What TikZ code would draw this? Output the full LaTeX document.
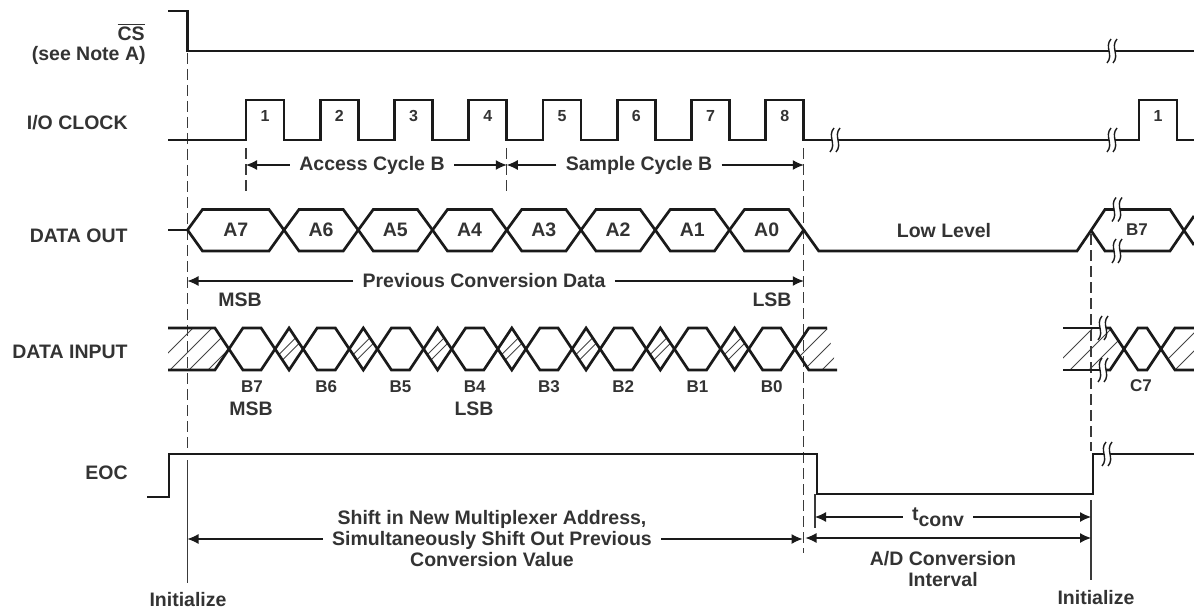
\documentclass[tikz,border=0pt]{standalone}
\usepackage{fontspec}
\setmainfont{Liberation Sans}
\usetikzlibrary{arrows.meta}
\definecolor{txt}{HTML}{333333}
\definecolor{sigc}{HTML}{1A1A1A}
\definecolor{guidec}{HTML}{3A3A3A}
\definecolor{hatchc}{HTML}{444444}
\begin{document}
\begin{tikzpicture}[x=0.5pt,y=-0.5pt,
  sig/.style={line width=1.35pt, draw=sigc, line join=miter, miter limit=4},
  dim/.style={line width=0.55pt, draw=sigc, -{Latex[length=5.5pt,width=5pt]}},
  dimboth/.style={line width=0.55pt, draw=sigc, {Latex[length=5.5pt,width=5pt]}-{Latex[length=5.5pt,width=5pt]}},
  guide/.style={line width=0.6pt, draw=guidec, dash pattern=on 5.5pt off 2.5pt},
  solidguide/.style={line width=0.6pt, draw=guidec},
  hatch/.style={line width=0.45pt, draw=hatchc},
  lbl/.style={font=\bfseries\fontsize{9.75}{10.5}\selectfont, text=txt, inner sep=0pt},
  albl/.style={lbl, inner xsep=4.5pt},
  num/.style={font=\bfseries\fontsize{8}{9}\selectfont, text=txt, inner sep=0pt},
  blbl/.style={font=\bfseries\fontsize{8.5}{9}\selectfont, text=txt, inner sep=0pt},
  brk/.pic={
    \draw[line width=0.7pt, sigc] (-1,-12) .. controls (-8,-4) and (2,4) .. (-5,12);
    \draw[line width=0.7pt, sigc] (5,-12) .. controls (-2,-4) and (8,4) .. (1,12);
  }
]
\useasboundingbox (0,0) rectangle (1194,610);

% ---------------- left labels
\node[lbl, anchor=east] (cs) at (145,32) {$\overline{\hbox{CS}}$};
\node[lbl, anchor=east] (note) at (146,55) {(see Note A)};
\node[lbl, anchor=east] (clk) at (128,123) {I/O CLOCK};
\node[lbl, anchor=east] (dout) at (128,236) {DATA OUT};
\node[lbl, anchor=east] (din) at (128,352) {DATA INPUT};
\node[lbl, anchor=east] (eoc) at (128,473) {EOC};

% ---------------- guide lines
\draw[guide] (187.5,53) -- (187.5,451);
\draw[solidguide] (187.5,460) -- (187.5,583);
\draw[guide] (246,148) -- (246,192);
\draw[guide] (506.75,148) -- (506.75,192);
\draw[guide] (803.75,148) -- (803.75,553);
\draw[guide] (1091,234) -- (1091,451);
\draw[solidguide] (1091,500) -- (1091,580);
\draw[solidguide] (815,494) -- (815,528);

% ---------------- CS
\draw[sig] (168,11) -- (187.5,11) -- (187.5,51) -- (1109,51);
\pic at (1112,51) {brk};
\draw[sig] (1115,51) -- (1194,51);

% ---------------- I/O CLOCK
\draw[sig] (168,140)
  \foreach \k in {0,...,7}{ -- ({246+74.25*\k},140) -- ({246+74.25*\k},100) -- ({284+74.25*\k},100) -- ({284+74.25*\k},140) }
  -- (832,140);
\pic at (835,140) {brk};
\draw[sig] (838,140) -- (1109,140);
\pic at (1112,140) {brk};
\draw[sig] (1115,140) -- (1139,140) -- (1139,100) -- (1177,100) -- (1177,140) -- (1194,140);
\foreach \k/\n in {0/1,1/2,2/3,3/4,4/5,5/6,6/7,7/8}
  \node[num] (p\n) at ({265+74.25*\k},116) {\n};
\node[num] (p1b) at (1158,116) {1};

% cycle arrows
\coordinate (t1) at (246,165);
\coordinate (t4) at (506.75,165);
\coordinate (t8) at (803.75,165);
\node[albl] (acc) at (372,165) {Access Cycle B};
\draw[dim] (acc.west) -- (t1);
\draw[dim] (acc.east) -- (t4);
\node[albl] (smp) at (639,165) {Sample Cycle B};
\draw[dim] (smp.west) -- (t4);
\draw[dim] (smp.east) -- (t8);

% ---------------- DATA OUT
\draw[sig] (168,230) -- (187.5,230);
\foreach \a/\b/\t in {187.5/284/A7, 284/358.25/A6, 358.25/432.5/A5, 432.5/506.75/A4, 506.75/581/A3, 581/655.25/A2, 655.25/729.5/A1, 729.5/803.75/A0} {
  \draw[sig] (\a,230) -- (\a+15,209.5) -- (\b-15,209.5) -- (\b,230) -- (\b-15,251) -- (\a+15,251) -- cycle;
  \node[lbl] (d\t) at ({(\a+\b)/2},230) {\t};
}
\draw[sig] (803.75,230) -- (818.75,251) -- (1077,251) -- (1091,230.5) -- (1105,209.5) -- (1114,209.5);
\draw[sig] (1091,230.5) -- (1105,251) -- (1114,251);
\pic at (1117,209.5) {brk};
\pic at (1117,251) {brk};
\draw[sig] (1120,209.5) -- (1170,209.5) -- (1184,230.5) -- (1194,245);
\draw[sig] (1120,251) -- (1170,251) -- (1184,230.5) -- (1194,216);
\node[lbl] (low) at (944,231) {Low Level};
\node[blbl] (dB7) at (1137,230) {B7};

% previous conversion data
\coordinate (pl) at (187.5,281);
\coordinate (pr) at (803.75,281);
\node[albl] (pcd) at (484,281) {Previous Conversion Data};
\draw[dim] (pcd.west) -- (pl);
\draw[dim] (pcd.east) -- (pr);
\node[lbl] (msb1) at (240,300) {MSB};
\node[lbl] (lsb1) at (772,300) {LSB};

% ---------------- DATA INPUT
% hatching
\begin{scope}
  \clip (168,328) -- (214.9,328) -- (228.9,349) -- (214.9,370) -- (168,370) -- cycle;
  \foreach \x in {172,191,210,229} \draw[hatch] (\x-25,374) -- (\x+25,324);
\end{scope}
\foreach \k in {0,...,6} {
  \pgfmathsetmacro\R{275.1+74.25*\k}
  \begin{scope}
    \clip (\R,349) -- (\R+14,328) -- (\R+28,349) -- (\R+14,370) -- cycle;
    \foreach \o in {9.5,18.5} \draw[hatch] (\R+\o-25,374) -- (\R+\o+25,324);
  \end{scope}
}
\begin{scope}
  \clip (794.85,349) -- (808.85,328) -- (827,328) -- (837,370) -- (808.85,370) -- cycle;
  \foreach \x in {807,825,843} \draw[hatch] (\x-25,374) -- (\x+25,324);
\end{scope}
\begin{scope}
  \clip (1063,328) -- (1110,328) -- (1124,349) -- (1110,370) -- (1063,370) -- cycle;
  \foreach \x in {1072,1091,1110} \draw[hatch] (\x-25,374) -- (\x+25,324);
\end{scope}
\begin{scope}
  \clip (1161,349) -- (1175,328) -- (1200,328) -- (1200,370) -- (1175,370) -- cycle;
  \foreach \x in {1178,1196} \draw[hatch] (\x-25,374) -- (\x+25,324);
\end{scope}
% outlines
\draw[sig] (168,328) -- (214.9,328)
  \foreach \k in {0,...,7}{ -- ({252+74.25*\k-9.1},370) -- ({252+74.25*\k+9.1},370) -- ({252+74.25*\k+37.1},328) }
  -- (827,328);
\draw[sig] (168,370) -- (214.9,370)
  \foreach \k in {0,...,7}{ -- ({252+74.25*\k-9.1},328) -- ({252+74.25*\k+9.1},328) -- ({252+74.25*\k+37.1},370) }
  -- (837,370);
\foreach \k/\t in {0/B7,1/B6,2/B5,3/B4,4/B3,5/B2,6/B1,7/B0}
  \node[blbl] (b\t) at ({252+74.25*\k},387) {\t};
\node[lbl] (msb2) at (251,409) {MSB};
\node[lbl] (lsb2) at (474,409) {LSB};
% right part
\draw[sig] (1063,328) -- (1100,328);
\draw[sig] (1063,370) -- (1100,370);
\pic at (1103,328) {brk};
\pic at (1103,370) {brk};
\draw[sig] (1106,328) -- (1110,328) -- (1124,349) -- (1138,370) -- (1147,370) -- (1161,349) -- (1175,328) -- (1194,328);
\draw[sig] (1106,370) -- (1110,370) -- (1124,349) -- (1138,328) -- (1147,328) -- (1161,349) -- (1175,370) -- (1194,370);
\node[blbl] (c7) at (1141,386) {C7};

% ---------------- EOC
\draw[sig] (147,497) -- (169,497) -- (169,454) -- (817,454) -- (817,494) -- (1093,494) -- (1093,454) -- (1104,454);
\pic at (1107,454) {brk};
\draw[sig] (1110,454) -- (1194,454);

% shift arrow
\coordinate (sl) at (187.5,539);
\coordinate (sr) at (802.5,539);
\node[lbl, align=center, inner xsep=4.5pt] (shift) at (492,539)
  {Shift in New Multiplexer Address,\\Simultaneously Shift Out Previous\\Conversion Value};
\draw[dim] (shift.west) -- (sl);
\draw[dim] (shift.east) -- (sr);

% t conv
\coordinate (cl) at (815,517);
\coordinate (cr) at (1091,517);
\node[albl] (tc) at (938,517) {t\raisebox{-0.3em}{conv}};
\draw[dim] (tc.west) -- (cl);
\draw[dim] (tc.east) -- (cr);

% A/D conversion interval
\coordinate (al) at (805.5,538);
\coordinate (ar) at (1091,538);
\draw[dimboth] (al) -- (ar);
\node[lbl, align=center] (adc) at (943,569) {A/D Conversion\\Interval};

% initialize
\node[lbl] (ini1) at (188,600) {Initialize};
\node[lbl] (ini2) at (1096,598) {Initialize};
\end{tikzpicture}
\end{document}
